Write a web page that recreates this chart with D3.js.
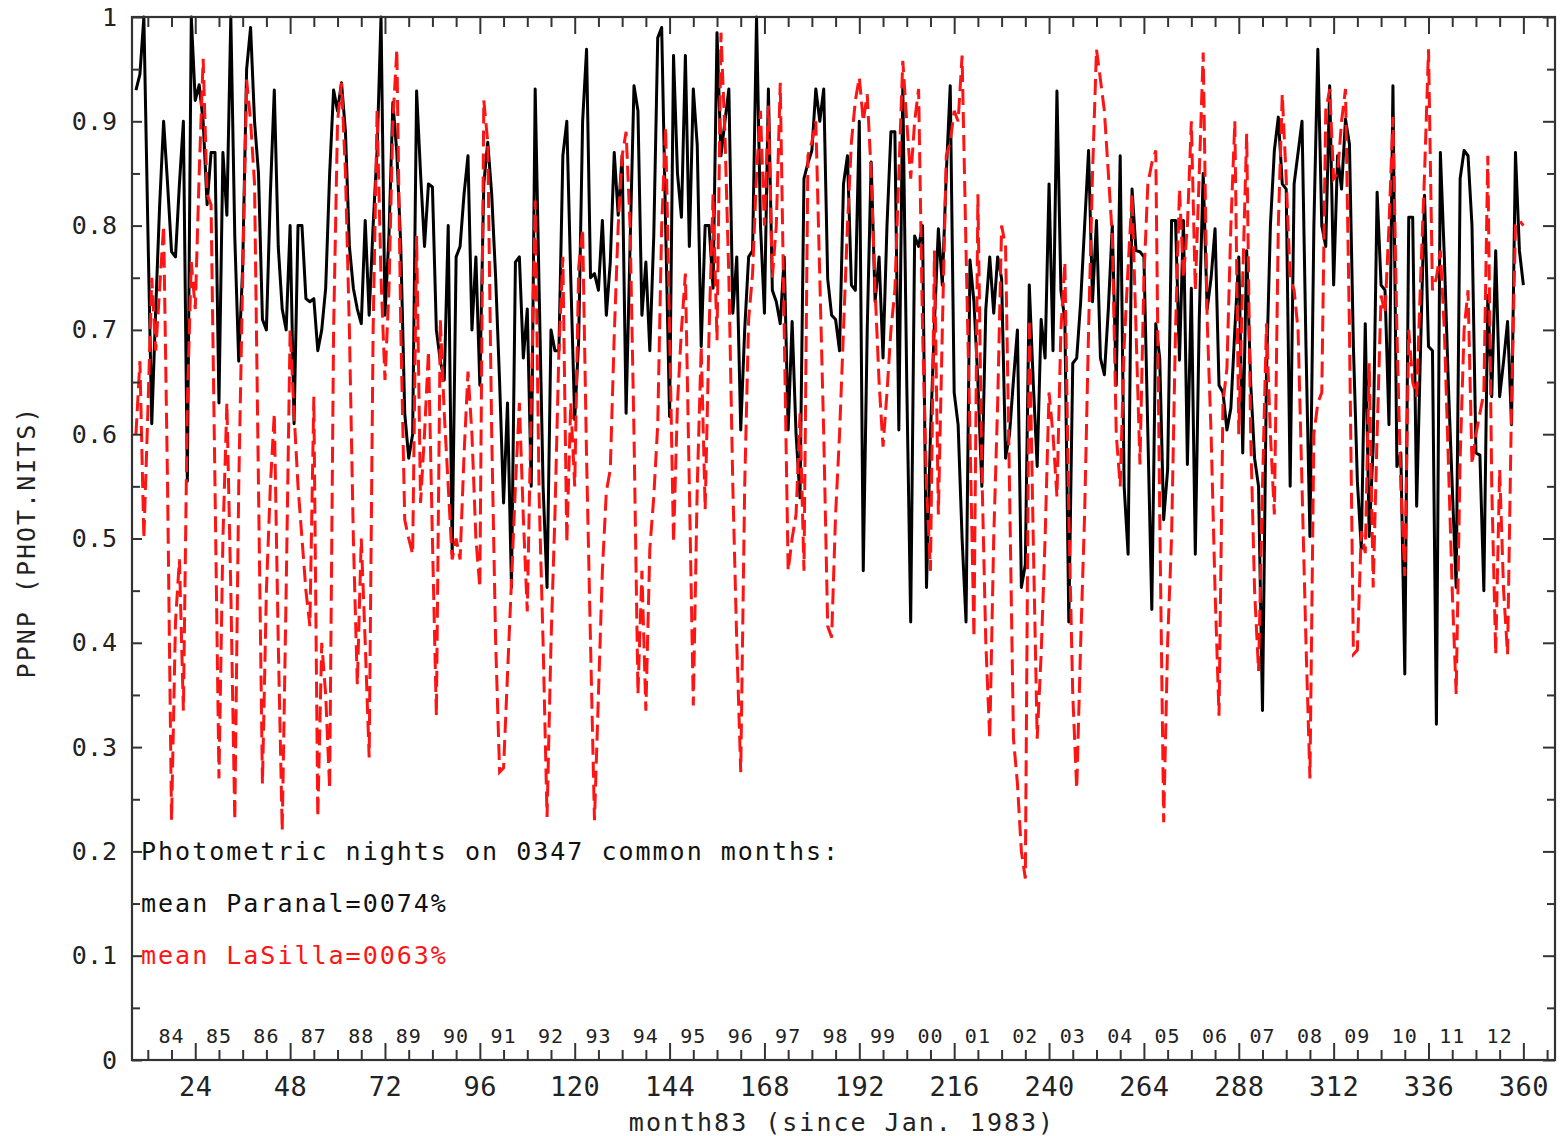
<!DOCTYPE html>
<html>
<head>
<meta charset="utf-8">
<script src="https://cdn.jsdelivr.net/npm/d3@7"></script>
<style>
  html, body { margin: 0; padding: 0; background: #fff; }
  svg { display: block; }
  text { font-family: "DejaVu Sans Mono", "Liberation Mono", monospace; }
</style>
</head>
<body>
<svg id="chart" width="1565" height="1136"></svg>
<script>
// ---------------- DATA ----------------
const firstMonth = 9; // month83 of the first value (series run month by month)

// Paranal (black, solid)
const paranal = [
  0.93,0.945,1.0,0.80,0.61,0.72,0.82,0.90,0.84,0.775,0.77,0.84,0.90,0.555,1.0,0.92,0.935,0.90,0.82,0.87,0.87,0.63,0.87,0.81,1.0,0.79,0.67,0.76,0.95,0.99,0.90,0.85,0.71,0.70,0.83,0.93,0.78,0.72,0.70,0.80,0.61,0.80,0.80,0.73,
  0.727,0.73,0.68,0.70,0.74,0.85,0.93,0.91,0.937,0.89,0.78,0.74,0.72,0.706,0.805,0.714,0.80,0.872,1.0,0.714,0.79,0.918,0.87,0.78,0.62,0.577,0.60,0.929,0.85,0.78,0.84,0.837,0.70,0.67,0.652,0.80,0.485,0.77,0.78,0.83,0.867,0.70,0.77,0.647,
  0.84,0.88,0.83,0.75,0.65,0.534,0.63,0.453,0.765,0.77,0.673,0.72,0.55,0.931,0.738,0.55,0.453,0.70,0.68,0.68,0.867,0.90,0.75,0.614,0.69,0.90,0.969,0.75,0.754,0.738,0.805,0.714,0.765,0.87,0.81,0.867,0.62,0.78,0.934,0.91,0.714,0.765,0.68,0.79,0.98,
  0.99,0.80,0.617,0.963,0.85,0.808,0.963,0.78,0.931,0.877,0.684,0.80,0.80,0.74,0.985,0.867,0.90,0.931,0.716,0.77,0.604,0.70,0.77,0.776,1.0,0.80,0.716,0.931,0.738,0.727,0.706,0.77,0.604,0.708,0.60,0.539,0.845,0.86,0.872,0.931,0.90,0.931,0.749,0.714,
  0.71,0.68,0.84,0.867,0.743,0.738,0.90,0.469,0.70,0.861,0.727,0.77,0.673,0.80,0.89,0.89,0.604,0.934,0.65,0.42,0.79,0.78,0.80,0.453,0.60,0.706,0.797,0.743,0.85,0.934,0.64,0.609,0.50,0.42,0.767,0.727,0.65,0.55,0.72,0.77,0.716,0.77,0.749,0.577,
  0.60,0.652,0.70,0.453,0.475,0.743,0.65,0.569,0.71,0.673,0.84,0.68,0.929,0.738,0.71,0.42,0.668,0.673,0.727,0.80,0.872,0.727,0.805,0.673,0.657,0.72,0.80,0.647,0.867,0.55,0.485,0.835,0.776,0.775,0.77,0.60,0.432,0.706,0.673,0.518,0.566,0.805,0.805,0.671,
  0.805,0.571,0.74,0.485,0.71,0.85,0.72,0.75,0.797,0.647,0.64,0.604,0.625,0.70,0.77,0.582,0.776,0.65,0.577,0.55,0.335,0.657,0.80,0.872,0.904,0.84,0.835,0.55,0.84,0.87,0.90,0.684,0.502,0.80,0.969,0.80,0.78,0.934,0.743,0.867,0.835,0.902,0.878,0.684,0.555,
  0.49,0.706,0.502,0.588,0.832,0.743,0.738,0.609,0.934,0.569,0.582,0.37,0.808,0.808,0.531,0.684,0.829,0.684,0.68,0.322,0.87,0.77,0.65,0.55,0.453,0.845,0.872,0.867,0.80,0.582,0.58,0.45,0.733,0.636,0.776,0.636,0.67,0.708,0.609,0.87,0.776,0.743
];

// La Silla (red, dashed)
const lasilla = [
  0.60,0.67,0.50,0.62,0.75,0.68,0.74,0.80,0.55,0.23,0.42,0.48,0.335,0.63,0.765,0.72,0.85,0.96,0.83,0.82,0.55,0.27,0.50,0.63,0.45,0.23,0.55,0.75,0.94,0.90,0.84,0.55,0.265,0.45,0.55,0.62,0.40,0.22,0.45,0.70,0.62,0.55,0.50,0.45,
  0.416,0.636,0.233,0.40,0.35,0.26,0.70,0.90,0.937,0.85,0.70,0.50,0.36,0.50,0.40,0.29,0.70,0.91,0.75,0.652,0.738,0.90,0.969,0.70,0.518,0.50,0.485,0.79,0.534,0.60,0.68,0.50,0.33,0.71,0.62,0.55,0.48,0.50,0.48,0.58,0.66,0.60,0.50,0.453,
  0.92,0.88,0.60,0.40,0.276,0.28,0.37,0.459,0.55,0.63,0.52,0.43,0.63,0.824,0.54,0.40,0.233,0.40,0.523,0.68,0.77,0.496,0.63,0.55,0.76,0.797,0.577,0.40,0.23,0.35,0.469,0.545,0.566,0.695,0.80,0.867,0.89,0.80,0.60,0.351,0.469,0.335,0.49,0.54,0.609,
  0.80,0.894,0.70,0.496,0.63,0.70,0.754,0.55,0.34,0.55,0.684,0.528,0.70,0.83,0.69,0.985,0.888,0.75,0.55,0.40,0.276,0.55,0.71,0.754,0.85,0.91,0.80,0.915,0.75,0.80,0.937,0.70,0.469,0.50,0.523,0.62,0.469,0.867,0.88,0.90,0.75,0.60,0.416,0.405,
  0.523,0.60,0.70,0.80,0.88,0.92,0.942,0.90,0.926,0.85,0.738,0.65,0.588,0.64,0.70,0.738,0.85,0.958,0.90,0.845,0.90,0.931,0.70,0.55,0.469,0.776,0.523,0.70,0.867,0.88,0.91,0.90,0.963,0.776,0.60,0.405,0.83,0.566,0.40,0.308,0.50,0.63,0.80,0.78,
  0.55,0.308,0.265,0.20,0.174,0.71,0.50,0.308,0.389,0.50,0.64,0.60,0.54,0.70,0.765,0.523,0.35,0.26,0.40,0.523,0.70,0.85,0.969,0.94,0.91,0.85,0.79,0.60,0.55,0.684,0.76,0.83,0.70,0.571,0.75,0.84,0.86,0.872,0.523,0.228,0.40,0.502,0.70,0.835,
  0.75,0.80,0.90,0.738,0.85,0.966,0.71,0.60,0.45,0.33,0.63,0.663,0.80,0.90,0.60,0.75,0.888,0.60,0.45,0.373,0.55,0.706,0.60,0.523,0.80,0.926,0.845,0.75,0.738,0.70,0.55,0.40,0.27,0.60,0.63,0.64,0.91,0.931,0.845,0.85,0.90,0.931,0.70,0.389,0.393,
  0.507,0.486,0.668,0.453,0.60,0.733,0.716,0.80,0.904,0.70,0.55,0.464,0.70,0.65,0.636,0.749,0.85,0.969,0.738,0.75,0.776,0.70,0.577,0.45,0.351,0.577,0.70,0.738,0.571,0.60,0.62,0.64,0.867,0.55,0.389,0.566,0.45,0.389,0.63,0.80,0.805,0.80
];

const xMajorTicks = [24,48,72,96,120,144,168,192,216,240,264,288,312,336,360];
const xMinorTicks = [12,18,30,36,42,54,60,66,78,84,90,102,108,114,126,132,138,150,156,162,174,180,186,198,204,210,222,228,234,246,252,258,270,276,282,294,300,306,318,324,330,342,348,354,366];
const yMajorTicks = [0,0.1,0.2,0.3,0.4,0.5,0.6,0.7,0.8,0.9,1];
const yMinorTicks = [0.05,0.15,0.25,0.35,0.45,0.55,0.65,0.75,0.85,0.95];
const yearLabels = ["84","85","86","87","88","89","90","91","92","93","94","95","96","97","98","99","00","01","02","03","04","05","06","07","08","09","10","11","12"];
const yearLabelMonths = [18,30,42,54,66,78,90,102,114,126,138,150,162,174,186,198,210,222,234,246,258,270,282,294,306,318,330,342,354];
const legendLines = ["Photometric nights on 0347 common months:", "mean Paranal=0074%", "mean LaSilla=0063%"];
const legendLevels = [0.2, 0.15, 0.1];
const xTitle = "month83 (since Jan. 1983)";
const yTitle = "PPNP (PHOT.NITS)";

// ---------------- DRAW ----------------
const svg = d3.select("#chart");
const L = 132, R = 1555, T = 17, B = 1060;
const x = d3.scaleLinear().domain([8, 368]).range([L, R]);
const y = d3.scaleLinear().domain([0, 1]).range([B, T]);
const axisColor = "#333";
const textColor = "#222";
const red = "#ff1414";

const seriesP = paranal.map((v, i) => ({ m: firstMonth + i, v }));
const seriesL = lasilla.map((v, i) => ({ m: firstMonth + i, v }));
const line = d3.line().x(d => x(d.m)).y(d => y(d.v));

const plot = svg.append("g");
plot.append("path").datum(seriesP)
  .attr("d", line).attr("fill", "none")
  .attr("stroke", "#000").attr("stroke-width", 3).attr("stroke-linejoin", "round");
plot.append("path").datum(seriesL)
  .attr("d", line).attr("fill", "none")
  .attr("stroke", red).attr("stroke-width", 3)
  .attr("stroke-dasharray", "16,7");

function styleAxis(g) {
  g.select(".domain").remove();
  g.selectAll(".tick line").attr("stroke", axisColor).attr("stroke-width", 2);
}

// bottom axis
svg.append("g").attr("transform", `translate(0,${B})`)
  .call(d3.axisBottom(x).tickValues(xMinorTicks).tickSize(-10).tickFormat(""))
  .call(styleAxis);
const bMaj = svg.append("g").attr("transform", `translate(0,${B})`)
  .call(d3.axisBottom(x).tickValues(xMajorTicks).tickSize(-17).tickPadding(17).tickFormat(d3.format("d")))
  .call(styleAxis);
bMaj.selectAll(".tick text").attr("fill", textColor).style("font-size", "27px")
  .style("font-family", '"DejaVu Sans Mono", monospace').style("letter-spacing", "0.5px");

// top axis
svg.append("g").attr("transform", `translate(0,${T})`)
  .call(d3.axisTop(x).tickValues(xMinorTicks).tickSize(-10).tickFormat(""))
  .call(styleAxis);
svg.append("g").attr("transform", `translate(0,${T})`)
  .call(d3.axisTop(x).tickValues(xMajorTicks).tickSize(-17).tickFormat(""))
  .call(styleAxis);

// left axis
const lMaj = svg.append("g").attr("transform", `translate(${L},0)`)
  .call(d3.axisLeft(y).tickValues(yMajorTicks).tickSize(-10).tickPadding(15)
    .tickFormat(d => d === 0 ? "0" : d === 1 ? "1" : d3.format(".1f")(d)))
  .call(styleAxis);
lMaj.selectAll(".tick text").attr("fill", textColor).style("font-size", "25px")
  .style("font-family", '"DejaVu Sans Mono", monospace');
svg.append("g").attr("transform", `translate(${L},0)`)
  .call(d3.axisLeft(y).tickValues(yMinorTicks).tickSize(-8).tickFormat(""))
  .call(styleAxis);

// right axis
svg.append("g").attr("transform", `translate(${R},0)`)
  .call(d3.axisRight(y).tickValues(yMajorTicks).tickSize(-12).tickFormat(""))
  .call(styleAxis);
svg.append("g").attr("transform", `translate(${R},0)`)
  .call(d3.axisRight(y).tickValues(yMinorTicks).tickSize(-8).tickFormat(""))
  .call(styleAxis);

// frame
svg.append("rect").attr("x", L).attr("y", T).attr("width", R - L).attr("height", B - T)
  .attr("fill", "none").attr("stroke", axisColor).attr("stroke-width", 2.2);

// year labels
svg.append("g").selectAll("text").data(yearLabels).join("text")
  .attr("x", (d, i) => x(yearLabelMonths[i]))
  .attr("y", 1043)
  .attr("text-anchor", "middle")
  .attr("fill", textColor)
  .style("font-size", "20px").style("letter-spacing", "1px")
  .text(d => d);

// legend texts
svg.append("g").selectAll("text").data(legendLines).join("text")
  .attr("x", 141)
  .attr("y", (d, i) => y(legendLevels[i]))
  .attr("dominant-baseline", "central")
  .attr("fill", (d, i) => i === 2 ? red : "#111")
  .style("font-size", "25px").style("letter-spacing", "2px")
  .text(d => d);

// axis titles
svg.append("text").attr("x", 842).attr("y", 1131).attr("text-anchor", "middle")
  .attr("fill", textColor).style("font-size", "25px").style("letter-spacing", "2px")
  .text(xTitle);
svg.append("text").attr("transform", "translate(26,542) rotate(-90)")
  .attr("text-anchor", "middle").attr("dominant-baseline", "central")
  .attr("fill", textColor).style("font-size", "25px").style("letter-spacing", "2px")
  .text(yTitle);
</script>
</body>
</html>
